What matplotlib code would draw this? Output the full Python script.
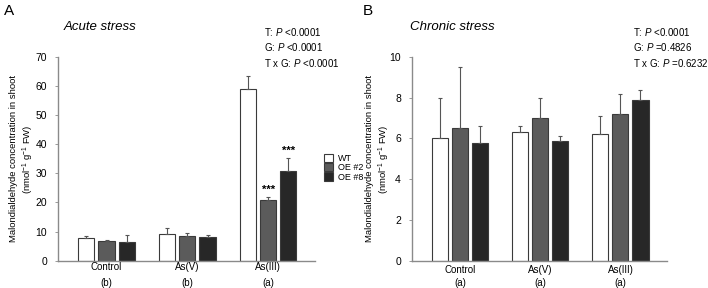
import matplotlib
matplotlib.use("Agg")
import matplotlib.pyplot as plt
import numpy as np
from matplotlib.patches import Patch
from matplotlib.transforms import blended_transform_factory

plt.rcParams['font.family'] = ['Liberation Sans', 'DejaVu Sans']
plt.rcParams['mathtext.fontset'] = 'custom'
plt.rcParams['mathtext.rm'] = 'Liberation Sans'
plt.rcParams['mathtext.it'] = 'Liberation Sans:italic'

categories = ["Control", "As(V)", "As(III)"]
genotypes = ["WT", "OE #2", "OE #8"]

acute_letters = ["(b)", "(b)", "(a)"]
acute_mean = {
    "WT":    [7.8, 9.2, 58.9],
    "OE #2": [6.6, 8.6, 20.7],
    "OE #8": [6.4, 8.1, 30.7],
}
acute_err = {
    "WT":    [0.8, 2.1, 4.6],
    "OE #2": [0.6, 1.0, 1.1],
    "OE #8": [2.4, 0.8, 4.6],
}
acute_stars = {"OE #2": [None, None, "***"], "OE #8": [None, None, "***"]}
acute_stats = ["T: $\\it{P}$ <0.0001", "G: $\\it{P}$ <0.0001", "T x G: $\\it{P}$ <0.0001"]

chronic_letters = ["(a)", "(a)", "(a)"]
chronic_mean = {
    "WT":    [6.0, 6.3, 6.2],
    "OE #2": [6.5, 7.0, 7.2],
    "OE #8": [5.8, 5.9, 7.9],
}
chronic_err = {
    "WT":    [2.0, 0.3, 0.9],
    "OE #2": [3.0, 1.0, 1.0],
    "OE #8": [0.8, 0.2, 0.5],
}
chronic_stats = ["T: $\\it{P}$ <0.0001", "G: $\\it{P}$ =0.4826", "T x G: $\\it{P}$ =0.6232"]

colors = {"WT": "white", "OE #2": "#5b5b5b", "OE #8": "#272727"}
edge = "#3a3a3a"
axcol = "#8a8a8a"

fig = plt.figure(figsize=(7.08, 2.88), dpi=100)
axA = fig.add_axes([0.082, 0.095, 0.363, 0.707])
axB = fig.add_axes([0.582, 0.095, 0.360, 0.707])

offsets = [-0.25, 0.0, 0.25]
width = 0.2
ylabel = "Malondialdehyde concentration in shoot\n(nmol$^{-1}$ g$^{-1}$ FW)"


def draw(ax, means, errs, ymax, step, letters, stats, title, stats_x, title_x,
         lab_y, stars=None):
    x = np.arange(len(categories))
    for off, g in zip(offsets, genotypes):
        ax.bar(x + off, means[g], width, color=colors[g], edgecolor=edge, linewidth=0.8, zorder=2)
        ax.errorbar(x + off, means[g], yerr=[np.zeros(3), errs[g]], fmt='none',
                    ecolor="#555555", elinewidth=0.8, capsize=1.5, capthick=0.8, zorder=3)
        if stars and g in stars:
            for i, s in enumerate(stars[g]):
                if s:
                    ax.text(x[i] + off, means[g][i] + errs[g][i] + ymax * 0.01, s,
                            ha='center', va='bottom', fontsize=8, fontweight='bold')
    ax.set_xlim(-0.6, 2.58)
    ax.set_ylim(0, ymax)
    ax.set_yticks(np.arange(0, ymax + 0.01, step))
    ax.set_xticks(x)
    ax.set_xticklabels([])
    ax.tick_params(axis='x', length=0)
    ax.tick_params(axis='y', length=2, width=0.6, color=axcol, labelsize=7.5, pad=6)
    for sp in ['top', 'right']:
        ax.spines[sp].set_visible(False)
    for sp in ['left', 'bottom']:
        ax.spines[sp].set_color(axcol)
        ax.spines[sp].set_linewidth(1.0)
    tr = blended_transform_factory(ax.transData, ax.transAxes)
    for i, (c, l) in enumerate(zip(categories, letters)):
        ax.text(x[i], lab_y[0], c, ha='center', va='center', fontsize=7, transform=tr)
        ax.text(x[i], lab_y[1], l, ha='center', va='center', fontsize=7, transform=tr)
    ax.set_ylabel(ylabel, fontsize=6.8, linespacing=1.3)
    ax.text(title_x, 1.145, title, transform=ax.transAxes, fontsize=9.5, style='italic',
            ha='left', va='center')
    for k, s in enumerate(stats):
        ax.text(stats_x, 1.121 - k * 0.074, s, transform=ax.transAxes, fontsize=7,
                ha='left', va='center')


draw(axA, acute_mean, acute_err, 70, 10, acute_letters, acute_stats, "Acute stress",
     stats_x=0.80, title_x=0.02, lab_y=(-0.032, -0.11), stars=acute_stars)
draw(axB, chronic_mean, chronic_err, 10, 2, chronic_letters, chronic_stats, "Chronic stress",
     stats_x=0.865, title_x=-0.01, lab_y=(-0.046, -0.109))

axA.yaxis.set_label_coords(-0.085, 0.5)
axB.yaxis.set_label_coords(-0.078, 0.5)

handles = [Patch(facecolor=colors[g], edgecolor=edge, linewidth=0.8, label=g) for g in genotypes]
fig.legend(handles=handles, loc='upper left', bbox_to_anchor=(0.453, 0.477), frameon=False,
           fontsize=6.5, handlelength=1.0, handleheight=1.0, labelspacing=0.0, handletextpad=0.5,
           borderaxespad=0)

fig.text(0.005, 0.985, "A", fontsize=11, ha='left', va='top')
fig.text(0.513, 0.985, "B", fontsize=11, ha='left', va='top')

fig.savefig("out.png", dpi=100)
